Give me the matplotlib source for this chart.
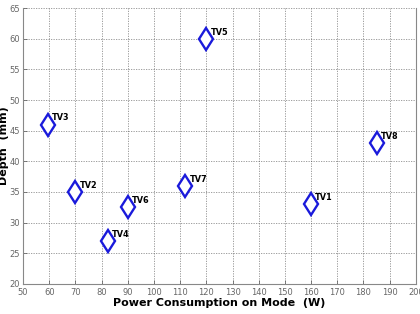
import numpy as np
import matplotlib
matplotlib.use("Agg")
import matplotlib.pyplot as plt

# datos
names = ["TV1", "TV2", "TV3", "TV4", "TV5", "TV6", "TV7", "TV8"]
power = [160, 70, 59.5, 82.5, 120, 90, 112, 185]
depth = [33, 35, 46, 27, 60, 32.5, 36, 43]

xticks = np.arange(50, 201, 10)
yticks = np.arange(20, 66, 5)

fig = plt.figure(figsize=(4.2, 3.14), dpi=100)
ax = fig.add_axes([0.055, 0.096, 0.935, 0.878])

ax.plot(power, depth, linestyle="none", marker="d", markersize=11.5,
        markerfacecolor="white", markeredgecolor="#1a1adb", markeredgewidth=1.7)
for n, x, y in zip(names, power, depth):
    ax.annotate(n, (x, y), xytext=(3, 3), textcoords="offset points",
                fontsize=6.5, fontweight="bold", stretch="condensed")

ax.set_xlim(50, 200)
ax.set_ylim(20, 65)
ax.set_xticks(xticks)
ax.set_yticks(yticks)
ax.grid(True, color="#444444", linestyle=(0, (1.5, 1.5)), linewidth=0.6, alpha=0.6)
ax.tick_params(direction="in", labelsize=6, colors="#666666", length=3, width=0.6)
ax.tick_params(axis="x", pad=3)
ax.tick_params(axis="y", pad=2)
for s in ["left", "bottom", "right"]:
    ax.spines[s].set_color("#888888")
    ax.spines[s].set_linewidth(0.8)
ax.spines["top"].set_visible(False)

ax.set_xlabel("Power Consumption on Mode  (W)", fontsize=8, fontweight="bold", labelpad=1)
ax.set_ylabel("Depth  (mm)", fontsize=8, fontweight="bold")
ax.yaxis.set_label_coords(-0.036, 0.5)

fig.savefig("out.png", dpi=100)
